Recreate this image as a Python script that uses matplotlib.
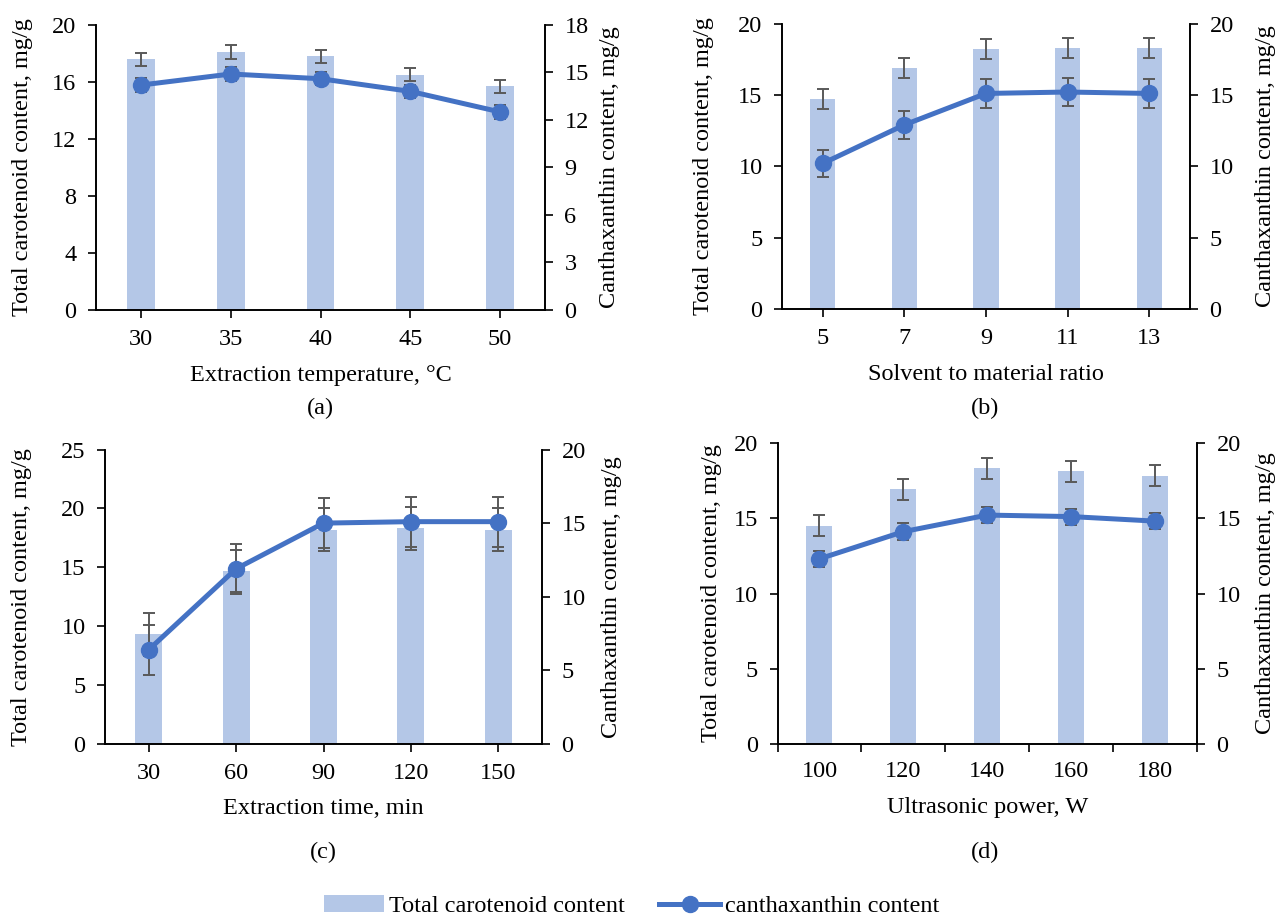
import matplotlib
matplotlib.use("Agg")
import matplotlib.pyplot as plt
import numpy as np

plt.rcParams['font.family'] = 'serif'
plt.rcParams['font.serif'] = ['Liberation Serif', 'Times New Roman', 'DejaVu Serif']
plt.rcParams['font.size'] = 17.5

# ---- data ----
temp_cats = ['30', '35', '40', '45', '50']
temp_total = [17.6, 18.1, 17.8, 16.5, 15.7]
temp_total_err = [0.45, 0.48, 0.45, 0.47, 0.45]
temp_cx = [14.2, 14.9, 14.6, 13.8, 12.5]
temp_cx_err = [0.42, 0.42, 0.42, 0.42, 0.42]

ratio_cats = ['5', '7', '9', '11', '13']
ratio_total = [14.7, 16.9, 18.2, 18.3, 18.3]
ratio_total_err = [0.7, 0.7, 0.7, 0.7, 0.7]
ratio_cx = [10.2, 12.9, 15.1, 15.2, 15.1]
ratio_cx_err = [0.97, 0.98, 1.0, 1.0, 1.0]

time_cats = ['30', '60', '90', '120', '150']
time_total = [9.3, 14.7, 18.2, 18.3, 18.2]
time_total_err = [1.8, 1.8, 1.8, 1.8, 1.8]
time_cx = [6.4, 11.9, 15.0, 15.1, 15.1]
time_cx_err = [1.7, 1.7, 1.7, 1.7, 1.7]

power_cats = ['100', '120', '140', '160', '180']
power_total = [14.5, 16.9, 18.3, 18.1, 17.8]
power_total_err = [0.7, 0.72, 0.7, 0.7, 0.7]
power_cx = [12.3, 14.1, 15.2, 15.1, 14.8]
power_cx_err = [0.53, 0.55, 0.53, 0.53, 0.53]

BAR = '#B4C7E7'
LINE = '#4472C4'
ERR = '#595959'
W, H = 1277, 919
FS = 17.5

fig = plt.figure(figsize=(W / 100, H / 100), dpi=100)


def panel(box, labels_px, cats, total, total_err, cx, cx_err, ylim1, ystep1,
          ylim2, ystep2, xlabel, tag, between=False):
    l, r, t, b = box
    yl_left, yl_right, xl_y, tag_x, tag_y = labels_px
    ax = fig.add_axes([l / W, 1 - b / H, (r - l) / W, (b - t) / H])
    x = np.arange(len(cats))
    ax.bar(x, total, width=0.31, color=BAR, zorder=1, label='Total carotenoid content')
    ax.errorbar(x, total, yerr=total_err, fmt='none', ecolor=ERR, elinewidth=1.4,
                capsize=4.5, capthick=1.4, zorder=2)
    ax.set_xlim(-0.5, len(cats) - 0.5)
    ax.set_ylim(0, ylim1)
    ax.set_yticks(np.arange(0, ylim1 + 0.01, ystep1))
    ax2 = ax.twinx()
    ax2.errorbar(x, cx, yerr=cx_err, fmt='none', ecolor=ERR, elinewidth=1.4,
                 capsize=4.5, capthick=1.4, zorder=2)
    ax2.plot(x, cx, color=LINE, lw=3.6, marker='o', ms=11.5, zorder=3,
             label='canthaxanthin content')
    ax2.set_ylim(0, ylim2)
    ax2.set_yticks(np.arange(0, ylim2 + 0.01, ystep2))
    for a in (ax, ax2):
        a.spines['top'].set_visible(False)
        for s in ('left', 'right', 'bottom'):
            a.spines[s].set_linewidth(1.2)
        a.tick_params(direction='out', length=6, width=1.2, labelsize=FS, pad=8)
    if between:
        ax.set_xticks(np.arange(-0.5, len(cats)), labels=[''] * (len(cats) + 1))
        ax.set_xticks(x, labels=cats, minor=True)
        ax.tick_params(axis='x', which='minor', length=0, pad=12.3)
    else:
        ax.set_xticks(x, labels=cats)

    ax.set_ylabel('Total carotenoid content, mg/g', fontsize=FS)
    ax.yaxis.set_label_coords((yl_left - l) / (r - l), 0.5)
    ax.yaxis.label.set_va('center')
    ax2.set_ylabel('Canthaxanthin content, mg/g', fontsize=FS)
    ax2.yaxis.set_label_coords((yl_right - l) / (r - l), 0.5)
    ax2.yaxis.label.set_va('center')
    ax.set_xlabel(xlabel, fontsize=FS)
    ax.xaxis.set_label_coords(0.5, (b - xl_y) / (b - t))
    ax.xaxis.label.set_va('center')
    fig.text(tag_x / W, 1 - tag_y / H, tag, ha='center', va='center', fontsize=FS)
    return ax, ax2


ax_a, ax_a2 = panel((96, 545, 25, 309.5), (22, 610, 375, 320, 408),
                    temp_cats, temp_total, temp_total_err,
                    temp_cx, temp_cx_err, 20, 4, 18, 3,
                    'Extraction temperature, \u00b0C', '(a)')
panel((782, 1190, 23.5, 309), (703, 1265, 375, 985, 408),
      ratio_cats, ratio_total, ratio_total_err,
      ratio_cx, ratio_cx_err, 20, 5, 20, 5, 'Solvent to material ratio', '(b)')
panel((105, 542, 449.5, 744), (22, 612, 808, 323, 852),
      time_cats, time_total, time_total_err,
      time_cx, time_cx_err, 25, 5, 20, 5, 'Extraction time, min', '(c)')
panel((777.5, 1197, 442.7, 744.3), (711, 1265, 808, 985, 852),
      power_cats, power_total, power_total_err,
      power_cx, power_cx_err, 20, 5, 20, 5, 'Ultrasonic power, W', '(d)', between=True)

h1, l1 = ax_a.get_legend_handles_labels()
h2, l2 = ax_a2.get_legend_handles_labels()
fig.legend(h1 + h2, l1 + l2, loc='center', bbox_to_anchor=(0.4945, 0.014), ncol=2,
           frameon=False, fontsize=FS, handlelength=2.5, handletextpad=0.2,
           columnspacing=1.4, borderpad=0.2)

fig.savefig('out.png', dpi=100)
